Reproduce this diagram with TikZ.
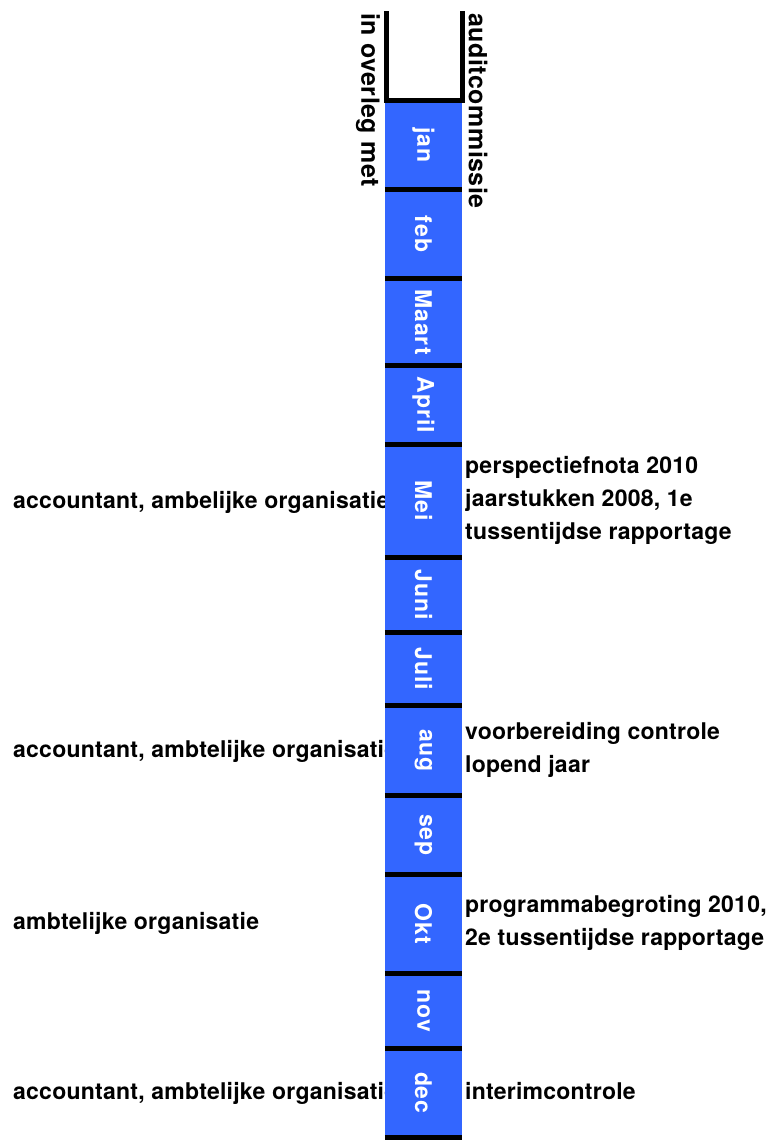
\documentclass[tikz,border=0pt]{standalone}
\usepackage{fontspec}
\setmainfont{TeX Gyre Heros}
\newfontfamily\monthfont[LetterSpace=4]{TeX Gyre Heros}
\newfontfamily\headfont[LetterSpace=2]{TeX Gyre Heros}
\newfontfamily\txtfont[LetterSpace=1]{TeX Gyre Heros}
\definecolor{monthblue}{HTML}{3366FF}
\begin{document}
\begin{tikzpicture}[x=1pt,y=-1pt,
	txt/.style={font=\txtfont\fontsize{23}{33}\selectfont\bfseries, inner sep=0pt},
	head/.style={font=\headfont\fontsize{25}{30}\selectfont\bfseries, inner sep=0pt, rotate=-90, anchor=west},
	month/.style={fill=monthblue, text=white, rotate=-90, minimum height=77pt, inner sep=0pt, font=\monthfont\fontsize{23}{28}\selectfont\bfseries},
	rule/.style={line width=5pt}]
	\useasboundingbox (0,0) rectangle (782,1144);

	% who is involved
	\node [txt, anchor=base west] (l1) at (13,508) {accountant, ambelijke organisatie};
	\node [txt, anchor=base west] (l2) at (13,757) {accountant, ambtelijke organisatie};
	\node [txt, anchor=base west] (l3) at (13,929) {ambtelijke organisatie};
	\node [txt, anchor=base west] (l4) at (13,1099) {accountant, ambtelijke organisatie};

	% the months
	\foreach \m/\t/\b in {jan/100/189.5, feb/189.5/278.5, Maart/278.5/365.5,
			April/365.5/444.5, Mei/444.5/557.5, Juni/557.5/632.5,
			Juli/632.5/705.5, aug/705.5/795.5, sep/795.5/874.5,
			Okt/874.5/973.5, nov/973.5/1048.5, dec/1048.5/1137}
		\node [month, minimum width={(\b-\t)*1pt}] (\m) at (423.5, {(\t+\b)/2}) {\m};
	\foreach \m in {jan,feb,Maart,April,Mei,Juni,Juli,aug,sep,Okt,nov,dec}
		\draw [rule] (\m.south east) -- (\m.north east);

	\draw [rule] (386,11) -- (386,100) -- (462,100) -- (462,11);
	\node [head] (overleg) at (368,13) {in overleg met};
	\node [head] (audit) at (478,13) {auditcommissie};

	% what is on the agenda
	\node [txt, align=left, anchor=west] (r1) at (465,500) {perspectiefnota 2010\\jaarstukken 2008, 1e\\tussentijdse rapportage};
	\node [txt, align=left, anchor=west] (r2) at (465,750) {voorbereiding controle\\lopend jaar};
	\node [txt, align=left, anchor=west] (r3) at (465,923) {programmabegroting 2010,\\2e tussentijdse rapportage};
	\node [txt, anchor=base west] (r4) at (465,1099) {interimcontrole};
\end{tikzpicture}
\end{document}
